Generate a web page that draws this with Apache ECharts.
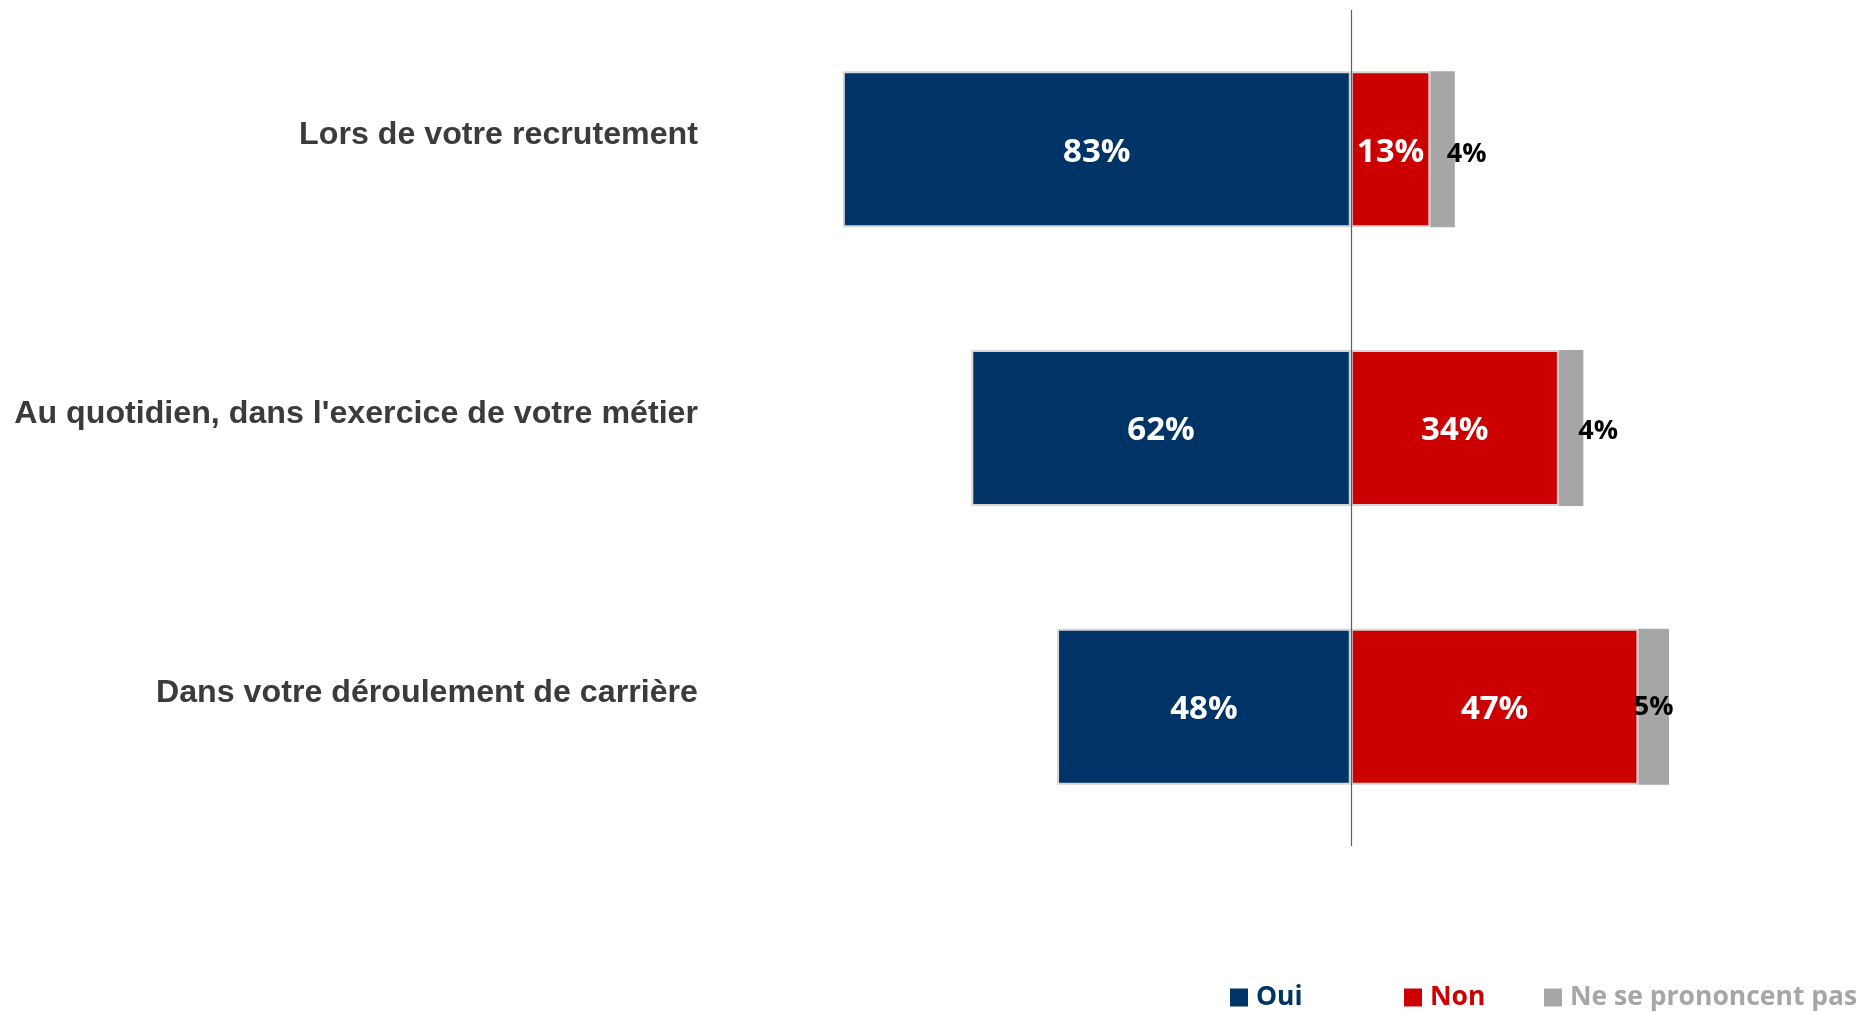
<!DOCTYPE html>
<html>
<head>
<meta charset="utf-8">
<script src="https://cdn.jsdelivr.net/npm/echarts@6/dist/echarts.min.js"></script>
<style>
  html, body { margin: 0; padding: 0; background: #fff; }
  #chart { width: 1862px; height: 1012px; }
</style>
</head>
<body>
<div id="chart"></div>
<script>
  // categories, top to bottom
  const categories = [
    'Lors de votre recrutement',
    "Au quotidien, dans l'exercice de votre métier",
    'Dans votre déroulement de carrière',
  ];
  const seriesNames = ['Oui', 'Non', 'Ne se prononcent pas'];
  const oui = [83, 62, 48];
  const non = [13, 34, 47];
  const nsp = [4, 4, 5];

  const colors = ['#003366', '#cc0000', '#a6a6a6'];
  const labelFont = "'Open Sans', sans-serif";
  // hand-placed offsets of the small grey labels
  const nspOffsets = [[24, 5], [27, 3], [0, 1]];

  const chart = echarts.init(document.getElementById('chart'));

  const barBase = {
    type: 'bar',
    stack: 'total',
    barWidth: 156,
    label: {
      show: true,
      position: 'inside',
      offset: [0, 3],
      color: '#fff',
      fontFamily: labelFont,
      fontWeight: 'bold',
      fontSize: 33,
      formatter: (p) => Math.abs(p.value) + '%',
    },
  };

  const legendBase = {
    bottom: -4,
    itemWidth: 18,
    itemHeight: 18,
    itemGap: 0,
    icon: 'rect',
    itemStyle: { borderWidth: 0 },
    selectedMode: false,
  };

  const option = {
    animation: false,
    grid: { left: 800, right: 144, top: 10, bottom: 166 },
    xAxis: {
      type: 'value',
      min: -90,
      max: 60,
      show: false,
    },
    yAxis: {
      type: 'category',
      inverse: true,
      data: categories,
      axisLine: { show: false },
      axisTick: { show: false },
      axisLabel: {
        margin: 102,
        fontFamily: "'Liberation Sans', Arial, sans-serif",
        fontWeight: 'bold',
        fontSize: 32.2,
        color: '#3b3b3b',
        verticalAlign: 'bottom',
        lineHeight: 28,
      },
    },
    legend: seriesNames.map((name, i) => ({
      ...legendBase,
      left: [1225, 1399, 1539][i],
      data: [name],
      textStyle: {
        color: colors[i],
        fontFamily: labelFont,
        fontWeight: 'bold',
        fontSize: 26.5,
        padding: [0, 0, 0, 3],
      },
    })),
    series: [
      {
        ...barBase,
        name: seriesNames[0],
        data: oui.map((v) => -v),
        itemStyle: { color: colors[0], borderColor: '#d6d6d6', borderWidth: 2 },
        markLine: {
          silent: true,
          symbol: 'none',
          label: { show: false },
          lineStyle: { color: '#5f5f5f', width: 1.2, type: 'solid' },
          data: [{ xAxis: 0 }],
        },
      },
      {
        ...barBase,
        name: seriesNames[1],
        data: non,
        itemStyle: { color: colors[1], borderColor: '#d6d6d6', borderWidth: 2 },
      },
      {
        ...barBase,
        name: seriesNames[2],
        data: nsp.map((v, i) => ({
          value: v,
          label: { offset: nspOffsets[i] },
        })),
        itemStyle: { color: colors[2] },
        label: {
          ...barBase.label,
          color: '#000',
          fontSize: 27,
        },
        z: 3,
      },
    ],
  };

  chart.setOption(option);
</script>
</body>
</html>
